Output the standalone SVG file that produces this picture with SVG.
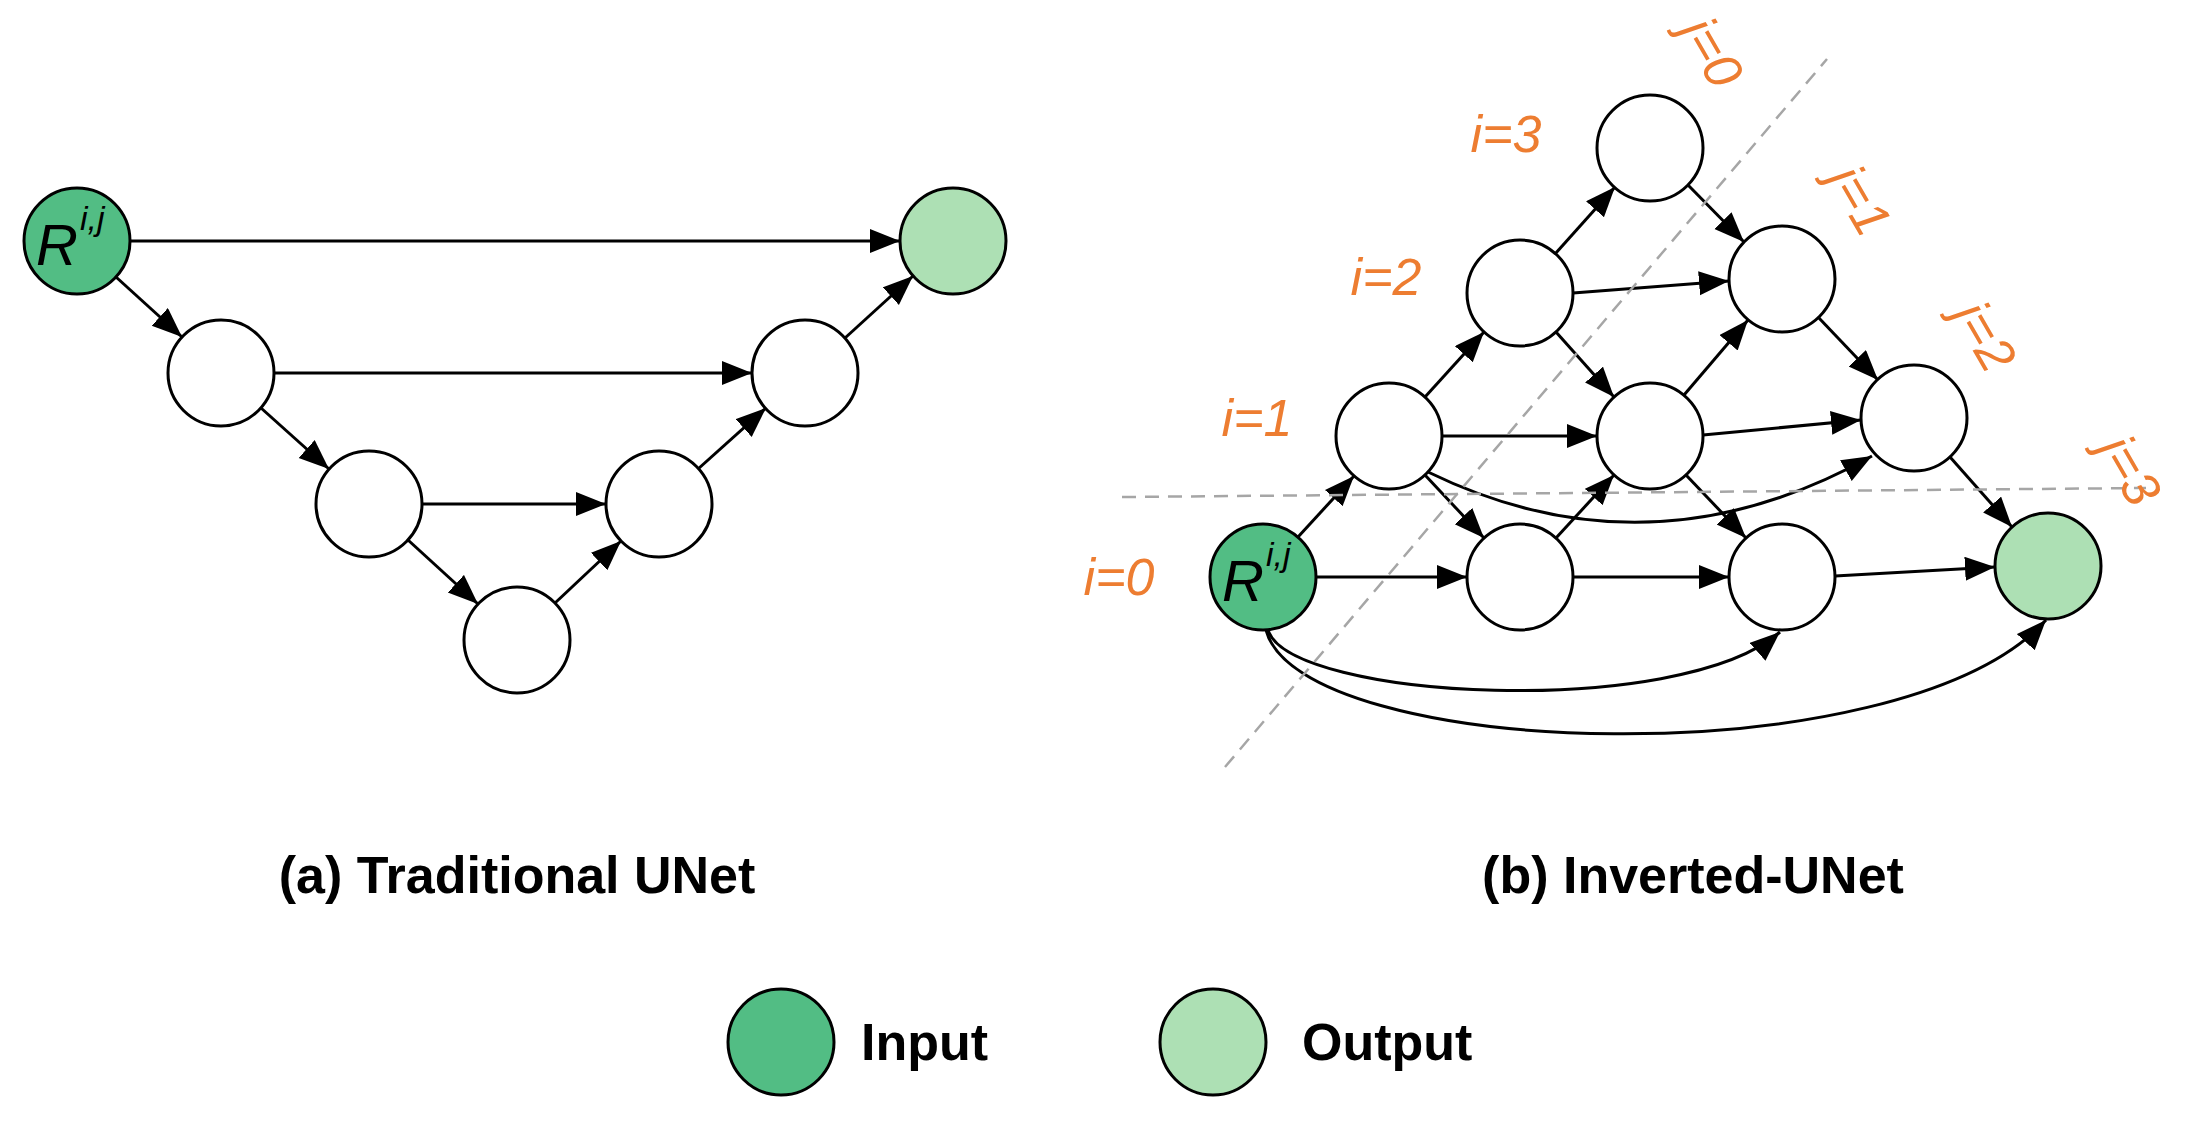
<svg xmlns="http://www.w3.org/2000/svg" width="2207" height="1121" viewBox="0 0 2207 1121">
<style>
.n{fill:#fff;stroke:#000;stroke-width:3}
.in{fill:#52BD84;stroke:#000;stroke-width:3}
.out{fill:#ADE0B4;stroke:#000;stroke-width:3}
.e{stroke:#000;stroke-width:3;fill:none;marker-end:url(#a)}
.d{stroke:#A6A6A6;stroke-width:2.5;stroke-dasharray:14 9;fill:none}
.lab{font-family:"Liberation Sans",Arial,sans-serif;font-style:italic;font-size:52px;fill:#ED7D31}
.r{font-family:"Liberation Sans",Arial,sans-serif;font-style:italic;fill:#000}
.cap{font-family:"Liberation Sans",Arial,sans-serif;font-weight:bold;font-size:52px;fill:#000}
</style>
<defs><marker id="a" markerUnits="userSpaceOnUse" markerWidth="32" markerHeight="26" refX="30" refY="12" orient="auto"><path d="M0,0 L30,12 L0,24 z" fill="#000"/></marker></defs>
<g id="connectors">
<line class="e" x1="130" y1="241" x2="900" y2="241"/>
<line class="e" x1="116" y1="277" x2="182" y2="337"/>
<line class="e" x1="274" y1="373" x2="752" y2="373"/>
<line class="e" x1="261" y1="408" x2="329" y2="469"/>
<line class="e" x1="422" y1="504" x2="606" y2="504"/>
<line class="e" x1="408" y1="540" x2="478" y2="604"/>
<line class="e" x1="555" y1="603" x2="621" y2="541"/>
<line class="e" x1="698" y1="469" x2="766" y2="408"/>
<line class="e" x1="845" y1="338" x2="913" y2="276"/>
<line class="e" x1="1316" y1="577" x2="1467" y2="577"/>
<line class="e" x1="1573" y1="577" x2="1729" y2="577"/>
<line class="e" x1="1835" y1="576" x2="1995" y2="567"/>
<line class="e" x1="1442" y1="436" x2="1597" y2="436"/>
<line class="e" x1="1703" y1="435" x2="1861" y2="420"/>
<line class="e" x1="1573" y1="293" x2="1729" y2="281"/>
<line class="e" x1="1298" y1="537" x2="1354" y2="476"/>
<line class="e" x1="1425" y1="397" x2="1484" y2="332"/>
<line class="e" x1="1555" y1="254" x2="1615" y2="187"/>
<line class="e" x1="1556" y1="538" x2="1614" y2="475"/>
<line class="e" x1="1684" y1="395" x2="1748" y2="320"/>
<line class="e" x1="1688" y1="185" x2="1744" y2="242"/>
<line class="e" x1="1818" y1="317" x2="1878" y2="380"/>
<line class="e" x1="1950" y1="457" x2="2012" y2="527"/>
<line class="e" x1="1556" y1="332" x2="1614" y2="397"/>
<line class="e" x1="1686" y1="475" x2="1746" y2="538"/>
<line class="e" x1="1425" y1="475" x2="1484" y2="538"/>
<path class="e" d="M1428,472 Q1650,580 1872,456"/>
<path class="e" d="M1268,630 C1290,700 1680,720 1780,632"/>
<path class="e" d="M1266,630 C1300,760 1900,780 2046,620"/>
</g>
<line class="d" x1="1225" y1="767" x2="1827" y2="59"/>
<line class="d" x1="1122" y1="497" x2="2146" y2="488"/>
<g id="L_in"><circle class="in" cx="77" cy="241" r="53"/><text class="r" x="36" y="265" font-size="58">R</text><text class="r" x="80" y="230" font-size="34">i,j</text></g>
<g id="L_out"><circle class="out" cx="953" cy="241" r="53"/></g>
<g id="L1"><circle class="n" cx="221" cy="373" r="53"/></g>
<g id="L2"><circle class="n" cx="805" cy="373" r="53"/></g>
<g id="L3"><circle class="n" cx="369" cy="504" r="53"/></g>
<g id="L4"><circle class="n" cx="659" cy="504" r="53"/></g>
<g id="L5"><circle class="n" cx="517" cy="640" r="53"/></g>
<g id="R_in"><circle class="in" cx="1263" cy="577" r="53"/><text class="r" x="1222" y="601" font-size="58">R</text><text class="r" x="1266" y="566" font-size="34">i,j</text></g>
<g id="R01"><circle class="n" cx="1520" cy="577" r="53"/></g>
<g id="R02"><circle class="n" cx="1782" cy="577" r="53"/></g>
<g id="R_out"><circle class="out" cx="2048" cy="566" r="53"/></g>
<g id="R10"><circle class="n" cx="1389" cy="436" r="53"/></g>
<g id="R11"><circle class="n" cx="1650" cy="436" r="53"/></g>
<g id="R12"><circle class="n" cx="1914" cy="418" r="53"/></g>
<g id="R20"><circle class="n" cx="1520" cy="293" r="53"/></g>
<g id="R21"><circle class="n" cx="1782" cy="279" r="53"/></g>
<g id="R30"><circle class="n" cx="1650" cy="148" r="53"/></g>
<g id="labels">
<text class="lab" x="1506" y="152" text-anchor="middle">i=3</text>
<text class="lab" x="1386" y="295" text-anchor="middle">i=2</text>
<text class="lab" x="1257" y="436" text-anchor="middle">i=1</text>
<text class="lab" x="1119" y="595" text-anchor="middle">i=0</text>
<text class="lab" transform="translate(1712,52) rotate(60)" text-anchor="middle" y="18">j=0</text>
<text class="lab" transform="translate(1860,200) rotate(60)" text-anchor="middle" y="18">j=1</text>
<text class="lab" transform="translate(1985,336) rotate(60)" text-anchor="middle" y="18">j=2</text>
<text class="lab" transform="translate(2130,470) rotate(60)" text-anchor="middle" y="18">j=3</text>
</g>
<text class="cap" x="517" y="893" text-anchor="middle">(a) Traditional UNet</text>
<text class="cap" x="1693" y="893" text-anchor="middle">(b) Inverted-UNet</text>
<g id="legend_in"><circle class="in" cx="781" cy="1042" r="53"/><text class="cap" x="861" y="1060">Input</text></g>
<g id="legend_out"><circle class="out" cx="1213" cy="1042" r="53"/><text class="cap" x="1302" y="1060">Output</text></g>
</svg>
